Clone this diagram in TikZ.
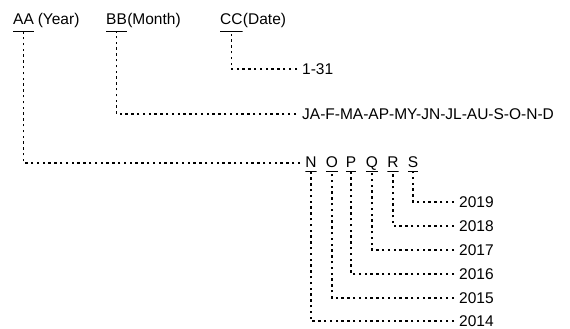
\documentclass[tikz,border=0pt]{standalone}
\usepackage{fontspec}
\setmainfont{Liberation Sans}
\usetikzlibrary{positioning}
\tikzset{
	code/.style={inner xsep=0pt, inner ysep=3.5pt, text height=11pt, text depth=0pt, font=\fontsize{15.5}{17}\selectfont},
	codeline/.style={code, inner ysep=1.5pt, text depth=2.5pt, path picture={\draw[line width=1.4pt] (path picture bounding box.south west) -- (path picture bounding box.south east);}},
	headline/.style={codeline, text depth=5pt, inner ysep=2pt},
	dotline/.style={draw, line width=1.3pt, dash pattern=on 2.4pt off 3.4pt},
}
\begin{document}
\begin{tikzpicture}[x=1pt,y=-1pt]
		\useasboundingbox (0,0) rectangle (570,329);
		\node (AA) at (13,22) [headline, anchor=west] {AA};
		\node (Year) [code, text depth=5pt, inner ysep=2pt, right=3.5pt of AA] {(Year)};
		\node (BB) at (106,22) [headline, anchor=west] {BB};
		\node (Month) [code, text depth=5pt, inner ysep=2pt, right=0pt of BB] {(Month)};
		\node (CC) at (220,22) [headline, anchor=west] {CC};
		\node (Date) [code, text depth=5pt, inner ysep=2pt, right=0pt of CC] {(Date)};
		\node (Days) at (302,69) [code, anchor=west] {1-31} edge [dotline, shorten <=5pt, to path={-| (\tikztotarget)}] (CC);
		\node (Months) at (302,114) [code, anchor=west] {JA-F-MA-AP-MY-JN-JL-AU-S-O-N-D} edge [dotline, shorten <=6pt, to path={-| (\tikztotarget)}] (BB);
		\node (N) at (311,163) [codeline] {N} edge [dotline, shorten <=5pt, to path={-| (\tikztotarget)}] (AA);
		\node (O) at (332,163) [codeline] {O};
		\node (P) at (351,163) [codeline] {P};
		\node (Q) at (372,163) [codeline] {Q};
		\node (R) at (393,163) [codeline] {R};
		\node (S) at (413,163) [codeline] {S};
		\node (Y19) at (459,202) [code, anchor=west] {2019} edge [dotline, shorten <=5pt, to path={-| (\tikztotarget)}] (S);
		\node (Y18) at (459,226) [code, anchor=west] {2018} edge [dotline, shorten <=5pt, to path={-| (\tikztotarget)}] (R);
		\node (Y17) at (459,250) [code, anchor=west] {2017} edge [dotline, shorten <=5pt, to path={-| (\tikztotarget)}] (Q);
		\node (Y16) at (459,274) [code, anchor=west] {2016} edge [dotline, shorten <=5pt, to path={-| (\tikztotarget)}] (P);
		\node (Y15) at (459,298) [code, anchor=west] {2015} edge [dotline, shorten <=5pt, to path={-| (\tikztotarget)}] (O);
		\node (Y14) at (459,321) [code, anchor=west] {2014} edge [dotline, shorten <=5pt, to path={-| (\tikztotarget)}] (N);
	\end{tikzpicture}
\end{document}
